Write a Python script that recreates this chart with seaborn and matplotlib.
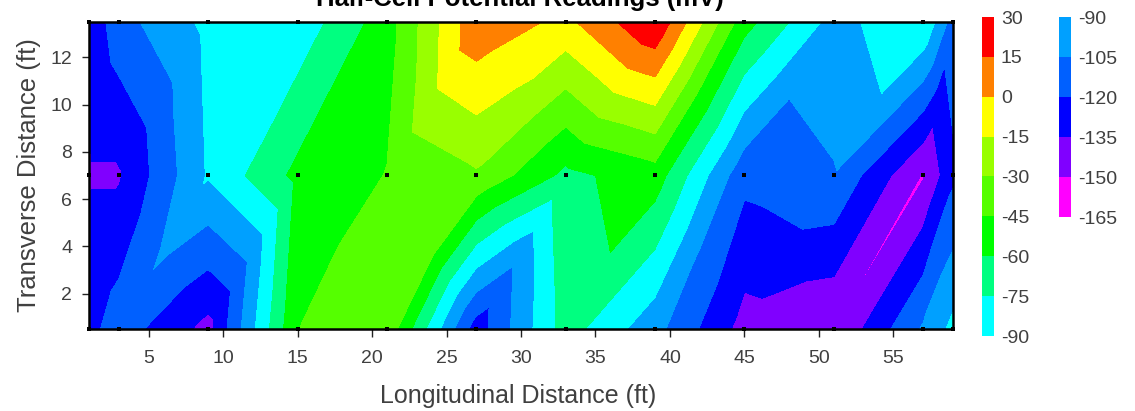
import matplotlib
matplotlib.use('Agg')
import matplotlib.pyplot as plt
import matplotlib.tri as mtri
from matplotlib.colors import ListedColormap, BoundaryNorm
import numpy as np
import pandas as pd
import seaborn as sns

title = 'Half-Cell Potential Readings (mV)'
xlabel = 'Longitudinal Distance (ft)'
ylabel = 'Transverse Distance (ft)'

# readings, grid lines of the survey
x_grid = [1, 3, 9, 15, 21, 27, 33, 39, 45, 51, 57, 59]
y_rows = [0.5, 7, 13.5]
z_bottom = [-125, -112, -140, -45.2, -34, -128, -68, -100, -141, -150.02, -103, -86]
z_mid = [-136.5, -136.6, -88.5, -56, -44.5, -32, -64, -52, -116, -106, -151.3, -123]
z_top = [-131.5, -111, -86, -85, -52, 11, -4, 29, -54, -96, -76, -112]

# values read at the middle of each grid cell
x_cells = [2, 6, 12, 18, 24, 30, 36, 42, 48, 54, 58]
y_cells = [3.75, 10.25]
z_cells_low = [-128, -103, -100, -44, -42, -100, -60, -106, -126, -150.6, -112]
z_cells_high = [-128, -110, -87, -54, -19, -19, -19, -50, -105, -91, -126]

x_ticks = [5, 10, 15, 20, 25, 30, 35, 40, 45, 50, 55]
y_ticks = [2, 4, 6, 8, 10, 12]

levels = [-165, -150, -135, -120, -105, -90, -75, -60, -45, -30, -15, 0, 15, 30]
colors = ['#ff00ff', '#8000ff', '#0000ff', '#0060ff', '#00a0ff', '#00ffff', '#00ff80',
          '#00ff00', '#55ff00', '#99ff00', '#ffff00', '#ff8000', '#ff0000']
legend_left = ['30', '15', '0', '-15', '-30', '-45', '-60', '-75', '-90']
legend_right = ['-90', '-105', '-120', '-135', '-150', '-165']


def legend_bar(pos, labels, band_colors):
    cax = fig.add_axes(pos)
    cells = np.arange(len(band_colors)).reshape(-1, 1)
    sns.heatmap(cells, ax=cax, cmap=ListedColormap(band_colors), cbar=False,
                xticklabels=False, yticklabels=False)
    cax.yaxis.tick_right()
    cax.set_yticks(np.arange(len(labels)))
    cax.set_yticklabels(labels, rotation=0, fontsize=14, color=text_color)
    cax.tick_params(axis='y', length=0, pad=5)
    return cax


if __name__ == '__main__':
    sns.set_style('ticks')
    plt.rcParams['font.family'] = ['Liberation Sans', 'DejaVu Sans']
    text_color = '#404040'
    W, H = 1135, 411

    fig = plt.figure(figsize=(W / 100, H / 100), dpi=100)
    ax = fig.add_axes([89 / W, 1 - 329 / H, (953 - 89) / W, (329 - 22) / H])

    # corner points then cell middles, each cell cut in four triangles
    nx, ny = len(x_grid), len(y_rows)
    px = [x for y in y_rows for x in x_grid]
    py = [y for y in y_rows for x in x_grid]
    pz = z_bottom + z_mid + z_top
    tris = []
    for j, (yc, zc) in enumerate(zip(y_cells, [z_cells_low, z_cells_high])):
        for i, xc in enumerate(x_cells):
            c = len(px)
            px.append(xc)
            py.append(yc)
            pz.append(zc[i])
            bl, br = j * nx + i, j * nx + i + 1
            tl, tr = bl + nx, br + nx
            tris += [[bl, br, c], [br, tr, c], [tr, tl, c], [tl, bl, c]]
    tri = mtri.Triangulation(px, py, tris)
    ax.tricontourf(tri, pz, levels=levels, cmap=ListedColormap(colors),
                   norm=BoundaryNorm(levels, len(colors)))

    # measuring points
    dots = pd.DataFrame({'x': [x for y in y_rows for x in x_grid],
                         'y': [y for y in y_rows for x in x_grid]})
    sns.scatterplot(data=dots, x='x', y='y', ax=ax, marker='s', s=11, color='black',
                    linewidth=0, clip_on=False, zorder=5, legend=False)

    ax.set_xlim(1, 59)
    ax.set_ylim(0.5, 13.5)
    ax.set_xticks(x_ticks)
    ax.set_yticks(y_ticks)
    ax.tick_params(axis='x', length=6, width=1, color='#222222', labelsize=14,
                   labelcolor=text_color, pad=9)
    ax.tick_params(axis='y', length=5, width=1, color='#222222', labelsize=14,
                   labelcolor=text_color, pad=7)
    for s in ax.spines.values():
        s.set_visible(True)
        s.set_linewidth(1.8)
        s.set_color('black')
    ax.set_xlabel(xlabel, fontsize=18, color=text_color)
    ax.xaxis.set_label_coords(0.4965, -0.178)
    ax.set_ylabel(ylabel, fontsize=18.5, color=text_color, labelpad=7)
    fig.text(520 / W, 1 - 6 / H, title, fontsize=18.5, fontweight='bold', ha='center',
             va='baseline', color='black')

    legend_bar([982 / W, 1 - 336 / H, 12 / W, 319 / H], legend_left, colors[5:][::-1])
    legend_bar([1059 / W, 1 - 217 / H, 12 / W, 200 / H], legend_right, colors[:5][::-1])

    plt.savefig('out.png', dpi=100)
